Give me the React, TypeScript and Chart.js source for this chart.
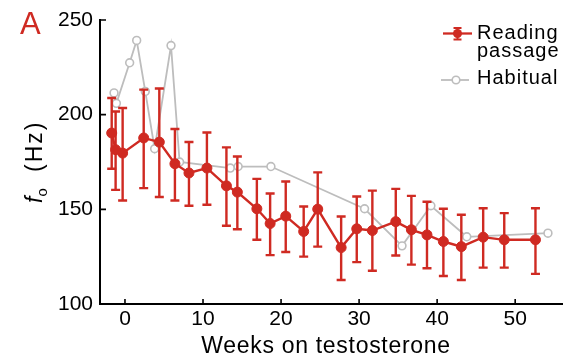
import React, { useEffect, useRef } from "react";
import { Chart, registerables } from "chart.js";

Chart.register(...registerables);

// Reading passage (mean with error bars)
const readingWeeks = [-1.7, -1.2, -0.3, 2.4, 4.4, 6.4, 8.2, 10.5, 13.0, 14.4, 16.9, 18.6, 20.6, 22.9, 24.7, 27.7, 29.7, 31.7, 34.7, 36.7, 38.7, 40.8, 43.1, 45.9, 48.6, 52.6];
const readingHz = [190.3, 181.5, 179.7, 187.7, 185.5, 174.1, 169.2, 171.8, 162.4, 159.1, 150.3, 142.5, 146.4, 138.3, 150.1, 129.8, 139.7, 138.8, 143.5, 139.2, 136.5, 133.0, 130.3, 135.3, 133.9, 133.9];
const readingUpper = [208.8, 201.7, 203.5, 213.2, 213.8, 192.4, 185.6, 190.6, 182.7, 177.9, 166.1, 158.4, 164.7, 151.5, 169.5, 146.2, 156.8, 159.9, 160.8, 157.1, 154.0, 150.3, 147.1, 150.6, 148.0, 150.6];
const readingLower = [171.4, 160.3, 154.7, 161.2, 156.5, 154.7, 151.9, 152.4, 141.3, 139.5, 133.9, 125.8, 127.5, 125.0, 130.3, 112.7, 122.1, 117.6, 125.6, 120.8, 118.9, 114.8, 112.7, 119.2, 119.2, 115.9];

// Habitual
const habitualWeeks = [-1.4, -1.1, 0.6, 1.5, 2.6, 3.8, 5.9, 7.0, 13.5, 14.5, 18.7, 30.7, 35.5, 39.2, 43.8, 54.2];
const habitualHz = [211.5, 206.0, 227.4, 239.2, 212.3, 182.0, 236.5, 175.0, 171.8, 172.6, 172.6, 150.3, 130.7, 151.9, 135.5, 137.4];

const xTickValues = [0, 10, 20, 30, 40, 50];
const yTickValues = [100, 150, 200, 250];

const RED = "#cf2a22";
const GRAY = "#bdbdbd";
const FONT = "'Liberation Sans', Arial, Helvetica, sans-serif";

export default function App() {
  const ref = useRef<HTMLCanvasElement>(null);

  useEffect(() => {
    document.body.style.margin = "0";
    const canvas = ref.current;
    if (!canvas) return;

    const errorBars = {
      id: "errorBars",
      afterDatasetDraw(chart: any, args: any) {
        if (args.index !== 1) return;
        const { ctx } = chart;
        const x = chart.scales.x;
        const y = chart.scales.y;
        ctx.save();
        ctx.strokeStyle = RED;
        ctx.lineWidth = 2.4;
        readingWeeks.forEach((w, i) => {
          const px = x.getPixelForValue(w);
          const top = y.getPixelForValue(readingUpper[i]);
          const bot = y.getPixelForValue(readingLower[i]);
          ctx.beginPath();
          ctx.moveTo(px, top);
          ctx.lineTo(px, bot);
          ctx.moveTo(px - 4.5, top);
          ctx.lineTo(px + 4.5, top);
          ctx.moveTo(px - 4.5, bot);
          ctx.lineTo(px + 4.5, bot);
          ctx.stroke();
        });
        ctx.restore();
      },
    };

    const inwardTicks = {
      id: "inwardTicks",
      afterDraw(chart: any) {
        const { ctx, chartArea } = chart;
        const x = chart.scales.x;
        const y = chart.scales.y;
        ctx.save();
        ctx.strokeStyle = "#000";
        ctx.lineWidth = 1.6;
        ctx.beginPath();
        xTickValues.forEach((v) => {
          const px = x.getPixelForValue(v);
          ctx.moveTo(px, chartArea.bottom);
          ctx.lineTo(px, chartArea.bottom - 5);
        });
        yTickValues.forEach((v) => {
          const py = y.getPixelForValue(v);
          ctx.moveTo(chartArea.left, py);
          ctx.lineTo(chartArea.left + 6, py);
        });
        ctx.stroke();
        ctx.restore();
      },
    };

    const chart = new Chart(canvas, {
      type: "line",
      data: {
        datasets: [
          {
            label: "Reading passage",
            data: readingWeeks.map((w, i) => ({ x: w, y: readingHz[i] })),
            borderColor: RED,
            backgroundColor: RED,
            borderWidth: 2.4,
            pointRadius: 5,
            pointBackgroundColor: RED,
            pointBorderColor: RED,
            pointBorderWidth: 1,
            tension: 0,
          },
          {
            label: "Habitual",
            data: habitualWeeks.map((w, i) => ({ x: w, y: habitualHz[i] })),
            borderColor: GRAY,
            backgroundColor: "#ffffff",
            borderWidth: 1.8,
            pointRadius: 3.9,
            pointBackgroundColor: "#ffffff",
            pointBorderColor: GRAY,
            pointBorderWidth: 1.6,
            tension: 0,
          },
        ],
      },
      options: {
        animation: false,
        responsive: false,
        events: [],
        layout: { padding: { top: 20, right: 24, left: 0, bottom: 0 } },
        plugins: {
          legend: { display: false },
          tooltip: { enabled: false },
        },
        scales: {
          x: {
            type: "linear",
            min: -3.2,
            max: 56,
            afterBuildTicks: (scale: any) => {
              scale.ticks = xTickValues.map((value) => ({ value }));
            },
            afterFit: (scale: any) => {
              scale.height = 59;
            },
            grid: { display: false, drawTicks: false },
            border: { display: true, color: "#000", width: 2 },
            ticks: {
              color: "#000",
              font: { family: FONT, size: 21 },
              padding: 3,
              maxRotation: 0,
              autoSkip: false,
            },
          },
          y: {
            type: "linear",
            min: 100,
            max: 250,
            afterBuildTicks: (scale: any) => {
              scale.ticks = yTickValues.map((value) => ({ value }));
            },
            afterFit: (scale: any) => {
              scale.width = 100;
            },
            grid: { display: false, drawTicks: false },
            border: { display: true, color: "#000", width: 2 },
            ticks: {
              color: "#000",
              font: { family: FONT, size: 21 },
              padding: 7,
            },
          },
        },
      },
      plugins: [errorBars, inwardTicks],
    } as any);

    return () => chart.destroy();
  }, []);

  return (
    <div style={{ position: "relative", width: 586, height: 363 }}>
      <canvas ref={ref} width={586} height={363} style={{ display: "block" }} />
      <svg
        width={586}
        height={363}
        style={{ position: "absolute", left: 0, top: 0, pointerEvents: "none" }}
        fontFamily={FONT}
      >
        <text x={20} y={33.5} fill={RED} fontSize={31} letterSpacing={1}>A</text>
        <text transform="rotate(-90)" fontSize={23} fill="#000">
          <tspan x={-203} y={42} fontStyle="italic">f</tspan>
          <tspan dy={5} fontSize={15}>o</tspan>
          <tspan x={-172} y={42} letterSpacing={2}>(Hz)</tspan>
        </text>
        <text x={326} y={353} textAnchor="middle" fontSize={23} letterSpacing={0.7} fill="#000">
          Weeks on testosterone
        </text>
        {/* legend */}
        <line x1={443} y1={33.5} x2={472} y2={33.5} stroke={RED} strokeWidth={2.3} />
        <line x1={457.5} y1={28} x2={457.5} y2={39.5} stroke={RED} strokeWidth={2} />
        <line x1={453.5} y1={28} x2={461.5} y2={28} stroke={RED} strokeWidth={2} />
        <line x1={453.5} y1={39.5} x2={461.5} y2={39.5} stroke={RED} strokeWidth={2} />
        <circle cx={457.5} cy={33.5} r={4.5} fill={RED} />
        <text x={477} y={38.5} fontSize={20} letterSpacing={1} fill="#000">Reading</text>
        <text x={477} y={57} fontSize={20} letterSpacing={1} fill="#000">passage</text>
        <line x1={441} y1={80} x2={469} y2={80} stroke={GRAY} strokeWidth={1.8} />
        <circle cx={456} cy={80} r={3.8} fill="#fff" stroke={GRAY} strokeWidth={1.6} />
        <text x={477} y={83.5} fontSize={20} letterSpacing={1} fill="#000">Habitual</text>
      </svg>
    </div>
  );
}
